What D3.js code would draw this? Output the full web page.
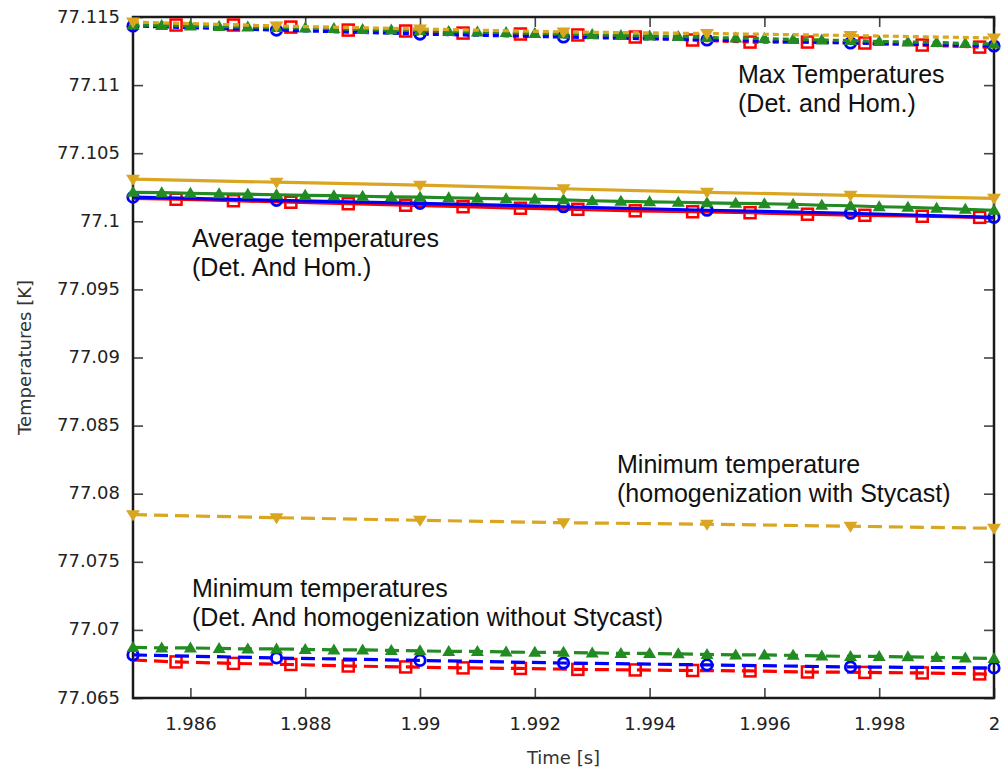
<!DOCTYPE html>
<html>
<head>
<meta charset="utf-8">
<script src="https://cdn.jsdelivr.net/npm/d3@7"></script>
<style>
  body { margin: 0; background: #fff; }
  svg text { font-family: "DejaVu Sans", sans-serif; }
  .tick text { font-size: 18px; fill: #222; }
  .note { font-family: "Liberation Sans", Arial, sans-serif; font-size: 25px; fill: #111; }
</style>
</head>
<body>
<script>
// time samples (s)
var timeCoarse = [1.985, 1.9875, 1.99, 1.9925, 1.995, 1.9975, 2.0];
var timeFine = [1.985, 1.9855, 1.986, 1.9865, 1.987, 1.9875, 1.988, 1.9885, 1.989, 1.9895,
                1.99, 1.9905, 1.991, 1.9915, 1.992, 1.9925, 1.993, 1.9935, 1.994, 1.9945,
                1.995, 1.9955, 1.996, 1.9965, 1.997, 1.9975, 1.998, 1.9985, 1.999, 1.9995, 2.0];
// red series: first and last are line ends only, the rest carry a marker
var timeRed = [1.985, 1.98575, 1.98675, 1.98775, 1.98875, 1.98975, 1.99075, 1.99175, 1.99275,
               1.99375, 1.99475, 1.99575, 1.99675, 1.99775, 1.99875, 1.99975, 2.0];

// max temperatures
var maxBlue = [77.11434, 77.11404, 77.11375, 77.11353, 77.11331, 77.11309, 77.11287];
var maxGold = [77.11463, 77.11434, 77.11412, 77.1139, 77.11379, 77.11364, 77.11346];
var maxRed = [77.11449, 77.11441, 77.11441, 77.11426, 77.11404, 77.11397, 77.11382, 77.11375,
              77.11368, 77.11353, 77.11331, 77.11316, 77.11316, 77.11309, 77.11294, 77.11279, 77.11279];
var maxGreen = [77.11441, 77.11438, 77.11434, 77.1143, 77.11426, 77.11423, 77.11419, 77.11415,
                77.11408, 77.11404, 77.11401, 77.11393, 77.1139, 77.11386, 77.11379, 77.11375,
                77.11371, 77.11364, 77.1136, 77.11357, 77.11349, 77.11346, 77.11342, 77.11335,
                77.11331, 77.11327, 77.1132, 77.11316, 77.11313, 77.11305, 77.11302];

// average temperatures
var avgBlue = [77.10177, 77.10154, 77.10132, 77.10107, 77.10081, 77.10059, 77.10029];
var avgGold = [77.10309, 77.10287, 77.10265, 77.10239, 77.10213, 77.10191, 77.10169];
var avgRed = [77.10169, 77.10162, 77.10151, 77.1014, 77.10129, 77.10118, 77.10107, 77.10096,
              77.10088, 77.10077, 77.1007, 77.10063, 77.10052, 77.10044, 77.10037, 77.10029, 77.10022];
var avgGreen = [77.10213, 77.1021, 77.10206, 77.10202, 77.10199, 77.10195, 77.10191, 77.10188,
                77.10184, 77.1018, 77.10177, 77.10173, 77.10169, 77.10165, 77.10162, 77.10158,
                77.10151, 77.10147, 77.10143, 77.1014, 77.10136, 77.10132, 77.10129, 77.10125,
                77.10118, 77.10114, 77.10107, 77.10103, 77.10096, 77.10088, 77.10081];

// minimum temperatures
var minBlue = [77.06816, 77.06794, 77.06776, 77.06757, 77.06743, 77.06728, 77.06721];
var minGold = [77.07846, 77.07824, 77.07805, 77.07787, 77.07776, 77.07761, 77.07746];
var minRed = [77.06779, 77.06765, 77.06754, 77.06746, 77.06735, 77.06728, 77.06721, 77.06717,
              77.0671, 77.06706, 77.06702, 77.06699, 77.06691, 77.06688, 77.06684, 77.06677, 77.06675];
var minGreen = [77.06871, 77.06868, 77.06868, 77.06864, 77.0686, 77.0686, 77.06857, 77.06853,
                77.06853, 77.06849, 77.06846, 77.06842, 77.06842, 77.06838, 77.06835, 77.06835,
                77.06831, 77.06827, 77.06827, 77.06824, 77.0682, 77.06816, 77.06816, 77.06813,
                77.06809, 77.06805, 77.06805, 77.06802, 77.06798, 77.06794, 77.0679];

var xTicks = [1.986, 1.988, 1.99, 1.992, 1.994, 1.996, 1.998, 2.0];
var xTickLabels = ["1.986", "1.988", "1.99", "1.992", "1.994", "1.996", "1.998", "2"];
var yTicks = [77.065, 77.07, 77.075, 77.08, 77.085, 77.09, 77.095, 77.1, 77.105, 77.11, 77.115];
var yTickLabels = ["77.065", "77.07", "77.075", "77.08", "77.085", "77.09", "77.095", "77.1", "77.105", "77.11", "77.115"];

var notes = [
    {x: 738, y: 83, lines: ["Max Temperatures", "(Det. and Hom.)"]},
    {x: 192, y: 247, lines: ["Average temperatures", "(Det. And Hom.)"]},
    {x: 617, y: 473, lines: ["Minimum temperature", "(homogenization with Stycast)"]},
    {x: 192, y: 597, lines: ["Minimum temperatures", "(Det. And homogenization without Stycast)"]}
];

var width = 1001,
    height = 770,
    plotLeft = 133, plotRight = 994, plotTop = 17, plotBottom = 698;

var svg = d3.select("body").append("svg")
    .attr("width", width)
    .attr("height", height);

var x = d3.scaleLinear().domain([1.985, 2.0]).range([plotLeft, plotRight]);
var y = d3.scaleLinear().domain([77.065, 77.115]).range([plotBottom, plotTop]);

// axes, ticks pointing inwards on all four sides
function styleAxis(g) {
    g.select(".domain").remove();
    g.selectAll(".tick line").attr("stroke", "#444").attr("stroke-width", 1.6);
}

svg.append("g")
    .attr("transform", "translate(" + plotLeft + ",0)")
    .call(d3.axisLeft(y).tickValues(yTicks).tickSize(-10).tickPadding(13)
          .tickFormat(function(d, i) { return yTickLabels[i]; }))
    .call(styleAxis)
    .selectAll("text").attr("dy", "0.28em");

svg.append("g")
    .attr("transform", "translate(" + plotRight + ",0)")
    .call(d3.axisRight(y).tickValues(yTicks).tickSize(-10).tickFormat(""))
    .call(styleAxis);

svg.append("g")
    .attr("transform", "translate(0," + plotBottom + ")")
    .call(d3.axisBottom(x).tickValues(xTicks).tickSize(-10).tickPadding(19)
          .tickFormat(function(d, i) { return xTickLabels[i]; }))
    .call(styleAxis);

svg.append("g")
    .attr("transform", "translate(0," + plotTop + ")")
    .call(d3.axisTop(x).tickValues(xTicks).tickSize(-10).tickFormat(""))
    .call(styleAxis);

svg.append("rect")
    .attr("x", plotLeft).attr("y", plotTop)
    .attr("width", plotRight - plotLeft).attr("height", plotBottom - plotTop)
    .attr("fill", "none")
    .attr("stroke", "#1a1a1a")
    .attr("stroke-width", 2.5);

// axis titles
svg.append("text")
    .attr("x", (plotLeft + plotRight) / 2).attr("y", 764)
    .attr("text-anchor", "middle")
    .style("font-size", "18px").style("fill", "#333")
    .text("Time [s]");

svg.append("text")
    .attr("transform", "translate(31," + (plotTop + plotBottom) / 2 + ") rotate(-90)")
    .attr("text-anchor", "middle")
    .style("font-size", "18px").style("fill", "#333")
    .text("Temperatures [K]");

// series
var line = d3.line()
    .x(function(d) { return x(d[0]); })
    .y(function(d) { return y(d[1]); });

var blue = "#0000ff", red = "#ff0000", green = "#228b22", gold = "#daa520";

function drawSeries(times, vals, color, dash, marker, skipEnds) {
    var pts = times.map(function(t, i) { return [t, vals[i]]; });
    var g = svg.append("g");
    g.append("path")
        .attr("d", line(pts))
        .attr("fill", "none")
        .attr("stroke", color)
        .attr("stroke-width", 3.2)
        .attr("stroke-dasharray", dash);

    var mpts = skipEnds ? pts.slice(1, pts.length - 1) : pts;
    var m = g.selectAll(".m").data(mpts).enter();
    if (marker == "circle") {
        m.append("circle")
            .attr("cx", function(d) { return x(d[0]); })
            .attr("cy", function(d) { return y(d[1]); })
            .attr("r", 5.2)
            .attr("fill", "none")
            .attr("stroke", color)
            .attr("stroke-width", 2.8);
    } else if (marker == "square") {
        m.append("rect")
            .attr("x", function(d) { return x(d[0]) - 5.5; })
            .attr("y", function(d) { return y(d[1]) - 5.5; })
            .attr("width", 11).attr("height", 11)
            .attr("fill", "none")
            .attr("stroke", color)
            .attr("stroke-width", 2.5);
    } else if (marker == "up") {
        m.append("path")
            .attr("d", function(d) {
                var cx = x(d[0]), cy = y(d[1]);
                return "M" + cx + "," + (cy - 6.5) + "L" + (cx + 6.5) + "," + (cy + 4.5) + "L" + (cx - 6.5) + "," + (cy + 4.5) + "Z";
            })
            .attr("fill", color);
    } else {
        m.append("path")
            .attr("d", function(d) {
                var cx = x(d[0]), cy = y(d[1]);
                return "M" + cx + "," + (cy + 6.5) + "L" + (cx + 7) + "," + (cy - 4.5) + "L" + (cx - 7) + "," + (cy - 4.5) + "Z";
            })
            .attr("fill", color);
    }
}

var groups = [
    {dash: "6,4", red: maxRed, blue: maxBlue, green: maxGreen, gold: maxGold},
    {dash: null, red: avgRed, blue: avgBlue, green: avgGreen, gold: avgGold},
    {dash: "14,7", red: minRed, blue: minBlue, green: minGreen, gold: minGold}
];

groups.forEach(function(gr) {
    drawSeries(timeRed, gr.red, red, gr.dash, "square", true);
    drawSeries(timeCoarse, gr.blue, blue, gr.dash, "circle", false);
    drawSeries(timeFine, gr.green, green, gr.dash, "up", false);
    drawSeries(timeCoarse, gr.gold, gold, gr.dash, "down", false);
});

// annotations
notes.forEach(function(n) {
    var t = svg.append("text").attr("class", "note");
    n.lines.forEach(function(s, i) {
        t.append("tspan").attr("x", n.x).attr("y", n.y + i * 29).text(s);
    });
});
</script>
</body>
</html>
